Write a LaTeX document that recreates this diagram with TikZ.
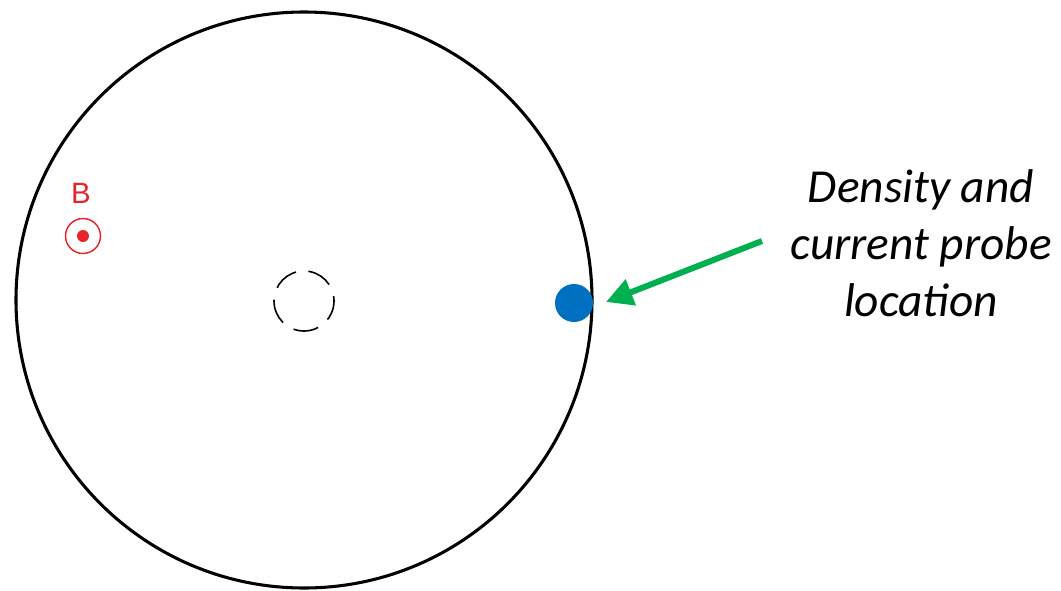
\documentclass[tikz,border=0pt]{standalone}
\usepackage{fontspec}
\setmainfont{Carlito}
\newfontfamily\arialfont{Liberation Sans}
\usetikzlibrary{arrows.meta}
\definecolor{bred}{HTML}{E8232A}
\definecolor{pblue}{HTML}{0070C0}
\definecolor{agreen}{HTML}{00B050}
\begin{document}
\begin{tikzpicture}[x=0.75pt,y=-0.75pt,
  vessel/.style={draw=black,line width=2.3pt},
  axisring/.style={draw=black,line width=1.2pt,dash pattern=on 19pt off 9.3pt,dash phase=4pt},
  bsym/.style={draw=bred,line width=1.1pt},
  probe/.style={fill=pblue},
  pointer/.style={draw=agreen,line width=4.5pt,-{Triangle[length=20pt,width=20pt]}},
  label/.style={font=\itshape\fontsize{35.5}{42.75}\selectfont,align=center}]
\useasboundingbox (0,0) rectangle (1061,590);
\coordinate (c) at (304,300);
\draw[vessel] (c) circle[radius=288];
\draw[axisring] (304,301) circle[radius=30];
\node[font=\arialfont\fontsize{22}{24}\selectfont,text=bred] (B) at (81,193) {B};
\draw[bsym] (83,236) circle[radius=17.5];
\fill[bred] (83,236) circle[radius=6];
\fill[probe] (574,303) circle[radius=19];
\node[label] (txt) at (921,243) {Density and\\current probe\\location};
\coordinate (astart) at (762,241);
\coordinate (aend) at (606,302);
\draw[pointer] (astart) -- (aend);
\end{tikzpicture}
\end{document}
